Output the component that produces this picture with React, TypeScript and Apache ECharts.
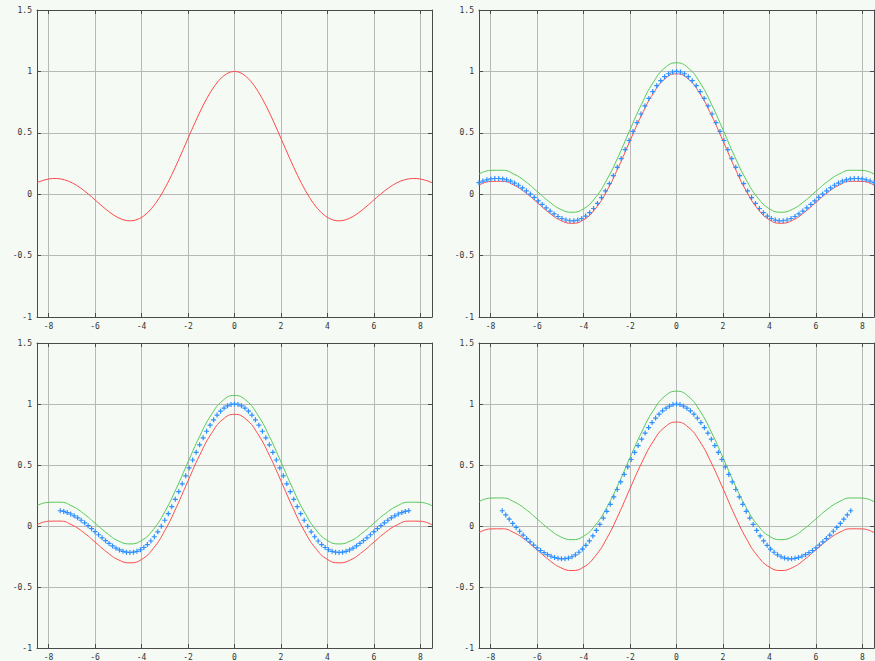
import React, { useEffect, useRef } from "react";
import * as echarts from "echarts";

const X_MIN = -8.5;
const X_MAX = 8.5;
const Y_MIN = -1;
const Y_MAX = 1.5;

// sampled curve, x = -8.5 .. 8.5 step 0.17 (panel 1 line, panel 2 markers)
const sincSamples = [
  0.0939, 0.1067, 0.1169, 0.124, 0.1278, 0.128, 0.1244, 0.1171, 0.1058, 0.091,
  0.0727, 0.0513, 0.0272, 0.0011, -0.0265, -0.055, -0.0834, -0.1111, -0.1371, -0.161,
  -0.1815, -0.198, -0.2099, -0.2163, -0.2166, -0.2106, -0.1977, -0.1778, -0.1506, -0.1164,
  -0.0752, -0.0273, 0.0266, 0.0861, 0.1505, 0.2187, 0.2903, 0.3633, 0.4373, 0.511,
  0.5833, 0.6531, 0.719, 0.7801, 0.8354, 0.8839, 0.9247, 0.9572, 0.9809, 0.9952,
  1,
  0.9952, 0.9809, 0.9572, 0.9247, 0.8839, 0.8354, 0.7801, 0.719, 0.6531, 0.5833,
  0.511, 0.4373, 0.3633, 0.2903, 0.2187, 0.1505, 0.0861, 0.0266, -0.0273, -0.0752,
  -0.1164, -0.1506, -0.1778, -0.1977, -0.2106, -0.2166, -0.2163, -0.2099, -0.198, -0.1815,
  -0.161, -0.1371, -0.1111, -0.0834, -0.055, -0.0265, 0.0011, 0.0272, 0.0513, 0.0727,
  0.091, 0.1058, 0.1171, 0.1244, 0.128, 0.1278, 0.124, 0.1169, 0.1067, 0.0939,
];

// panel 3 markers, x = -7.5 .. 7.5 step 0.15
const markers3 = [
  0.1251, 0.1192, 0.1102, 0.0984, 0.0838, 0.0667, 0.0472, 0.0257, 0.0027, -0.0216,
  -0.0466, -0.0718, -0.0966, -0.1205, -0.1431, -0.1636, -0.1815, -0.1963, -0.2075, -0.2146,
  -0.2172, -0.2149, -0.2075, -0.1947, -0.1764, -0.1524, -0.1229, -0.088, -0.0478, -0.0027,
  0.047, 0.1009, 0.1583, 0.2187, 0.2814, 0.3458, 0.4111, 0.4764, 0.541, 0.6042,
  0.665, 0.7228, 0.7767, 0.8261, 0.8704, 0.9089, 0.9411, 0.9666, 0.9851, 0.9963,
  1,
  0.9963, 0.9851, 0.9666, 0.9411, 0.9089, 0.8704, 0.8261, 0.7767, 0.7228, 0.665,
  0.6042, 0.541, 0.4764, 0.4111, 0.3458, 0.2814, 0.2187, 0.1583, 0.1009, 0.047,
  -0.0027, -0.0478, -0.088, -0.1229, -0.1524, -0.1764, -0.1947, -0.2075, -0.2149, -0.2172,
  -0.2146, -0.2075, -0.1963, -0.1815, -0.1636, -0.1431, -0.1205, -0.0966, -0.0718, -0.0466,
  -0.0216, 0.0027, 0.0257, 0.0472, 0.0667, 0.0838, 0.0984, 0.1102, 0.1192, 0.1251,
];

// panel 4 markers, x = -7.5 .. 7.5 step 0.15
const markers4 = [
  0.125, 0.091, 0.056, 0.021, -0.012, -0.043, -0.074, -0.103, -0.13, -0.156,
  -0.18, -0.201, -0.219, -0.235, -0.248, -0.258, -0.265, -0.269, -0.268, -0.263,
  -0.252, -0.236, -0.215, -0.189, -0.158, -0.122, -0.081, -0.036, 0.013, 0.065,
  0.12, 0.178, 0.238, 0.299, 0.361, 0.423, 0.484, 0.545, 0.603, 0.659,
  0.712, 0.762, 0.807, 0.848, 0.885, 0.917, 0.944, 0.966, 0.983, 0.995,
  1.0,
  0.995, 0.983, 0.966, 0.944, 0.917, 0.885, 0.848, 0.807, 0.762, 0.712,
  0.659, 0.603, 0.545, 0.484, 0.423, 0.361, 0.299, 0.238, 0.178, 0.12,
  0.065, 0.013, -0.036, -0.081, -0.122, -0.158, -0.189, -0.215, -0.236, -0.252,
  -0.263, -0.268, -0.269, -0.265, -0.258, -0.248, -0.235, -0.219, -0.201, -0.18,
  -0.156, -0.13, -0.103, -0.074, -0.043, -0.012, 0.021, 0.056, 0.091, 0.125,
];

// band curves, x = -8.5 .. 8.5 step 0.5
const upper2 = [
  0.164, 0.194, 0.195, 0.164, 0.103, 0.023, -0.058, -0.122, -0.147, -0.119, -0.03, 0.117,
  0.309, 0.525, 0.735, 0.911, 1.029, 1.07, 1.029, 0.911, 0.735, 0.525, 0.309, 0.117,
  -0.03, -0.119, -0.147, -0.122, -0.058, 0.023, 0.103, 0.164, 0.195, 0.194, 0.164,
];
const lower2 = [
  0.074, 0.104, 0.105, 0.074, 0.013, -0.067, -0.148, -0.212, -0.237, -0.209, -0.12, 0.027,
  0.219, 0.435, 0.645, 0.821, 0.939, 0.98, 0.939, 0.821, 0.645, 0.435, 0.219, 0.027,
  -0.12, -0.209, -0.237, -0.212, -0.148, -0.067, 0.013, 0.074, 0.105, 0.104, 0.074,
];
const upper3 = [
  0.166, 0.194, 0.195, 0.164, 0.103, 0.023, -0.058, -0.122, -0.147, -0.119, -0.03, 0.117,
  0.309, 0.525, 0.735, 0.911, 1.029, 1.07, 1.029, 0.911, 0.735, 0.525, 0.309, 0.117,
  -0.03, -0.119, -0.147, -0.122, -0.058, 0.023, 0.103, 0.164, 0.195, 0.194, 0.166,
];
const lower3 = [
  0.009, 0.039, 0.04, 0.009, -0.052, -0.132, -0.213, -0.277, -0.302, -0.274, -0.185, -0.038,
  0.154, 0.37, 0.58, 0.756, 0.874, 0.915, 0.874, 0.756, 0.58, 0.37, 0.154, -0.038,
  -0.185, -0.274, -0.302, -0.277, -0.213, -0.132, -0.052, 0.009, 0.04, 0.039, 0.009,
];
const upper4 = [
  0.199, 0.229, 0.23, 0.199, 0.138, 0.058, -0.023, -0.087, -0.112, -0.084, 0.005, 0.152,
  0.344, 0.56, 0.77, 0.946, 1.064, 1.105, 1.064, 0.946, 0.77, 0.56, 0.344, 0.152,
  0.005, -0.084, -0.112, -0.087, -0.023, 0.058, 0.138, 0.199, 0.23, 0.229, 0.199,
];
const lower4 = [
  -0.054, -0.024, -0.023, -0.054, -0.115, -0.195, -0.276, -0.34, -0.365, -0.337, -0.248, -0.101,
  0.091, 0.307, 0.517, 0.694, 0.811, 0.852, 0.811, 0.694, 0.517, 0.307, 0.091, -0.101,
  -0.248, -0.337, -0.365, -0.34, -0.276, -0.195, -0.115, -0.054, -0.023, -0.024, -0.054,
];

const RED = "#ff4a4a";
const GREEN = "#55c955";
const BLUE = "#2f8fff";
const BG = "#f5faf5";
const FONT = "DejaVu Sans Mono";
const PLUS = "path://M0,3H6M3,0V6";

function pairs(start: number, step: number, ys: number[]) {
  return ys.map((y, i) => [Math.round((start + i * step) * 10000) / 10000, y]);
}

export default function App() {
  const ref = useRef<HTMLDivElement>(null);
  useEffect(() => {
    document.body.style.margin = "0";
    if (!ref.current) return;
    const chart = echarts.init(ref.current, null, { renderer: "svg" });
    const grids = [
      { left: 37, top: 10, width: 395, height: 307 },
      { left: 479, top: 10, width: 395, height: 307 },
      { left: 37, top: 343, width: 395, height: 307 },
      { left: 479, top: 343, width: 395, height: 307 },
    ];
    const axisColor = "#4a4a4a";
    const xAxis: any[] = [];
    const yAxis: any[] = [];
    grids.forEach((_, i) => {
      const common = {
        gridIndex: i,
        type: "value",
        axisLine: { show: true, onZero: false, lineStyle: { color: axisColor, width: 1 } },
        axisTick: { show: true, inside: true, length: 4, lineStyle: { color: axisColor } },
      };
      xAxis.push({
        ...common,
        position: "bottom",
        min: X_MIN,
        max: X_MAX,
        splitNumber: 8,
        axisLabel: {
          margin: 5,
          fontSize: 8,
          fontFamily: FONT,
          color: "#333",
          showMinLabel: false,
          showMaxLabel: false,
          formatter: (v: number) => (Number.isInteger(v) ? String(v) : ""),
        },
        splitLine: { show: true, lineStyle: { color: "#b8b8b8", width: 1 } },
      });
      xAxis.push({
        ...common,
        position: "top",
        min: X_MIN,
        max: X_MAX,
        splitNumber: 8,
        axisLabel: { show: false },
        splitLine: { show: false },
      });
      yAxis.push({
        ...common,
        position: "left",
        min: Y_MIN,
        max: Y_MAX,
        interval: 0.5,
        axisLabel: { margin: 5, fontSize: 8, fontFamily: FONT, color: "#333" },
        splitLine: { show: true, lineStyle: { color: "#b8b8b8", width: 1 } },
      });
      yAxis.push({
        ...common,
        position: "right",
        min: Y_MIN,
        max: Y_MAX,
        interval: 0.5,
        axisLabel: { show: false },
        splitLine: { show: false },
      });
    });

    const line = (i: number, data: number[][], color: string, smooth: boolean) => ({
      type: "line",
      xAxisIndex: 2 * i,
      yAxisIndex: 2 * i,
      data,
      showSymbol: false,
      smooth,
      lineStyle: { color, width: 1 },
      z: 2,
      silent: true,
    });
    const pts = (i: number, data: number[][]) => ({
      type: "scatter",
      xAxisIndex: 2 * i,
      yAxisIndex: 2 * i,
      data,
      symbol: PLUS,
      symbolSize: 5,
      itemStyle: { color: "none", borderColor: BLUE, borderWidth: 1.2, opacity: 1 },
      z: 3,
      silent: true,
    });

    chart.setOption({
      animation: false,
      backgroundColor: BG,
      grid: grids,
      xAxis,
      yAxis,
      series: [
        line(0, pairs(-8.5, 0.17, sincSamples), RED, false),
        line(1, pairs(-8.5, 0.5, lower2), RED, true),
        line(1, pairs(-8.5, 0.5, upper2), GREEN, true),
        pts(1, pairs(-8.5, 0.17, sincSamples)),
        line(2, pairs(-8.5, 0.5, lower3), RED, true),
        line(2, pairs(-8.5, 0.5, upper3), GREEN, true),
        pts(2, pairs(-7.5, 0.15, markers3)),
        line(3, pairs(-8.5, 0.5, lower4), RED, true),
        line(3, pairs(-8.5, 0.5, upper4), GREEN, true),
        pts(3, pairs(-7.5, 0.15, markers4)),
      ],
    });
    return () => chart.dispose();
  }, []);
  return <div ref={ref} style={{ width: 875, height: 661, background: BG }} />;
}
